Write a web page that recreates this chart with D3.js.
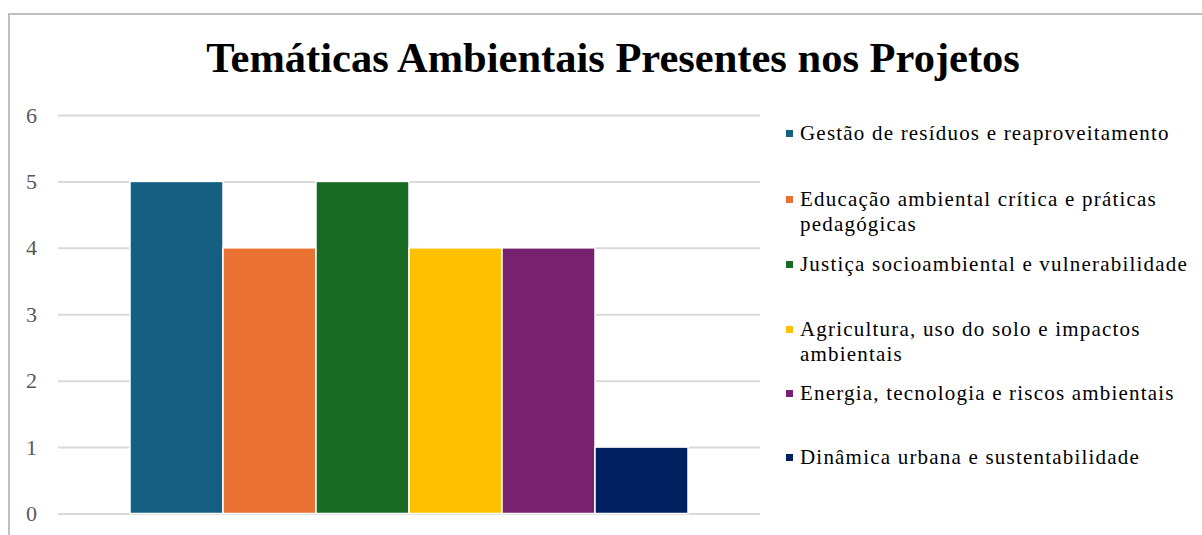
<!DOCTYPE html>
<html><head><meta charset="utf-8">
<script src="https://cdn.jsdelivr.net/npm/d3@7"></script>
<style>body{margin:0;background:#fff;}svg{display:block;}</style>
</head><body>
<svg id="c" width="1202" height="535"></svg>
<script>
const title = "Temáticas Ambientais Presentes nos Projetos";
const series = ["Gestão de resíduos e reaproveitamento","Educação ambiental crítica e práticas pedagógicas","Justiça socioambiental e vulnerabilidade","Agricultura, uso do solo e impactos ambientais","Energia, tecnologia e riscos ambientais","Dinâmica urbana e sustentabilidade"];
const legendLines = [["Gestão de resíduos e reaproveitamento"],["Educação ambiental crítica e práticas","pedagógicas"],["Justiça socioambiental e vulnerabilidade"],["Agricultura, uso do solo e impactos","ambientais"],["Energia, tecnologia e riscos ambientais"],["Dinâmica urbana e sustentabilidade"]];
const values = [5,4,5,4,4,1];
const colors = ["#156082","#E97132","#196B24","#FFC000","#782170","#002060"];
const yTicks = [0,1,2,3,4,5,6];

const svg = d3.select("#c");
svg.append("rect").attr("x",9).attr("y",14).attr("width",1250).attr("height",600)
  .attr("fill","#fff").attr("stroke","#BFBFBF").attr("stroke-width",2);

svg.append("text").attr("x",613).attr("y",72).attr("text-anchor","middle")
  .attr("font-family","Liberation Serif").attr("font-weight","bold").attr("font-size",42.5)
  .attr("fill","#000").text(title);

const y = d3.scaleLinear().domain([0,6]).range([513.5,115]);
const x = d3.scaleBand().domain(series).range([130,688]).paddingInner(0).paddingOuter(0);

const gAxis = svg.append("g").attr("transform","translate(58,0)")
  .call(d3.axisLeft(y).tickValues(yTicks).tickSize(-702).tickFormat(d3.format("d")).tickPadding(21));
gAxis.select(".domain").remove();
gAxis.selectAll(".tick line").attr("stroke","#D9D9D9").attr("stroke-width",2);
gAxis.selectAll(".tick text").attr("font-family","Liberation Serif").attr("font-size",22).attr("fill","#595959");

svg.append("g").selectAll("rect").data(series).join("rect")
  .attr("x",d=>x(d)).attr("width",x.bandwidth())
  .attr("y",(d,i)=>y(values[i])).attr("height",(d,i)=>y(0)-y(values[i]))
  .attr("fill",(d,i)=>colors[i]).attr("stroke","#fff").attr("stroke-width",1.5);

const legY = [133,199,264,329,393,457];
const lg = svg.append("g");
series.forEach((s,i)=>{
  lg.append("rect").attr("x",786).attr("y",legY[i]-3).attr("width",7).attr("height",7).attr("fill",colors[i]);
  legendLines[i].forEach((ln,j)=>{
    lg.append("text").attr("x",800).attr("y",legY[i]+7+j*25)
      .attr("font-family","Liberation Serif").attr("font-size",21).attr("fill","#000")
      .attr("letter-spacing",1.2).text(ln);
  });
});
</script>
</body></html>
